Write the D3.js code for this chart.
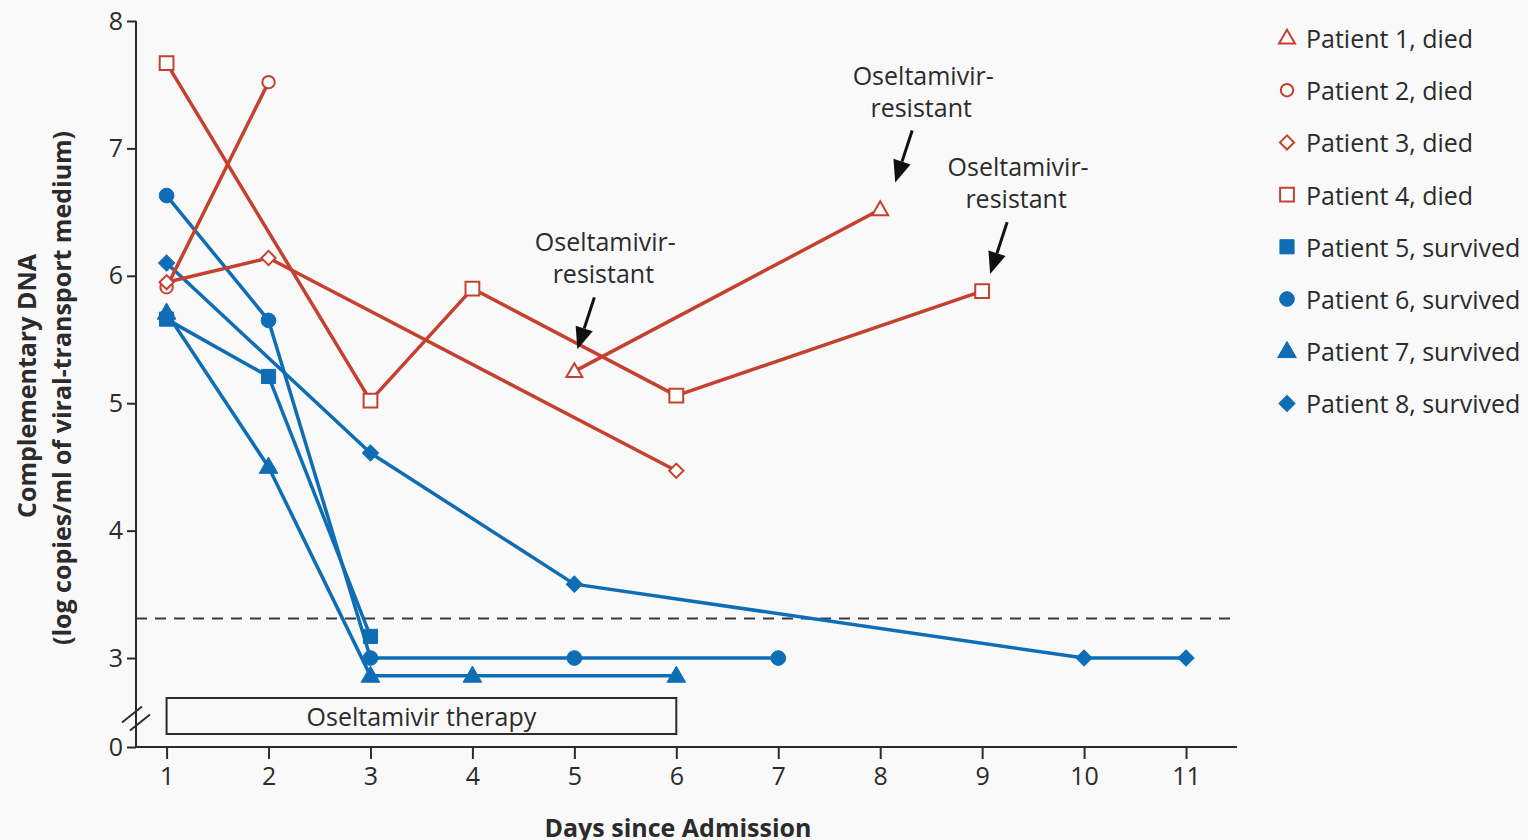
<!DOCTYPE html>
<html>
<head>
<meta charset="utf-8">
<script src="https://cdn.jsdelivr.net/npm/d3@7"></script>
<style>
  html, body { margin: 0; padding: 0; background: #f9f9f9; }
  svg { display: block; }
  .lbl { font-family: "Open Sans", sans-serif; fill: #2b2b2b; }
  .ttl { font-family: "Open Sans", "DejaVu Sans", sans-serif; font-weight: bold; fill: #2b2b2b; }
</style>
</head>
<body>
<div id="chart-container"></div>
<script>
// days and values
const patientNames = ["Patient 1, died", "Patient 2, died", "Patient 3, died", "Patient 4, died",
  "Patient 5, survived", "Patient 6, survived", "Patient 7, survived", "Patient 8, survived"];
const p1Days = [5, 8],            p1Vals = [5.25, 6.52];
const p2Days = [1, 2],            p2Vals = [5.91, 7.52];
const p3Days = [1, 2, 6],         p3Vals = [5.95, 6.14, 4.47];
const p4Days = [1, 3, 4, 6, 9],   p4Vals = [7.67, 5.02, 5.9, 5.06, 5.88];
const p5Days = [1, 2, 3],         p5Vals = [5.66, 5.21, 3.17];
const p6Days = [1, 2, 3, 5, 7],   p6Vals = [6.63, 5.65, 3.0, 3.0, 3.0];
const p7Days = [1, 2, 3, 4, 6],   p7Vals = [5.71, 4.5, 2.86, 2.86, 2.86];
const p8Days = [1, 3, 5, 10, 11], p8Vals = [6.1, 4.61, 3.58, 3.0, 3.0];
const detectionLimit = 3.31;
const therapyDays = [1, 6];
const resistantPoints = [[5, 5.25], [8, 6.52], [9, 5.88]]; // arrows point near these
const xTicks = [1, 2, 3, 4, 5, 6, 7, 8, 9, 10, 11];
const yTicks = [0, 3, 4, 5, 6, 7, 8];

const red = "#c4412f", blue = "#0f6db5", ink = "#2b2b2b";

const width = 1528, height = 840;
const svg = d3.select("#chart-container").append("svg")
  .attr("width", width).attr("height", height);

// x scale
const x = d3.scaleLinear().domain([0.7, 11.5]).range([136, 1237]);
// broken y scale: 0 sits just under the break, linear above 2.6
const y = d3.scaleLinear().domain([0, 2.6, 8]).range([747, 709, 21]);

// dashed detection line
svg.append("line")
  .attr("x1", x(0.7)).attr("x2", x(11.5))
  .attr("y1", y(detectionLimit)).attr("y2", y(detectionLimit))
  .attr("stroke", "#3a3a3a").attr("stroke-width", 2)
  .attr("stroke-dasharray", "11,8");

// therapy box
svg.append("rect")
  .attr("x", x(therapyDays[0])).attr("y", 698)
  .attr("width", x(therapyDays[1]) - x(therapyDays[0])).attr("height", 36)
  .attr("fill", "none").attr("stroke", ink).attr("stroke-width", 2);
svg.append("text").attr("class", "lbl")
  .attr("x", (x(therapyDays[0]) + x(therapyDays[1])) / 2).attr("y", 716)
  .attr("text-anchor", "middle").attr("dominant-baseline", "central")
  .style("font-size", "25px")
  .text("Oseltamivir therapy");

// axes
const yAxis = svg.append("g")
  .attr("transform", `translate(${x(0.7)},0)`)
  .call(d3.axisLeft(y).tickValues(yTicks).tickSize(9).tickPadding(4).tickFormat(d3.format("d")));
yAxis.select(".domain").attr("stroke", ink).attr("stroke-width", 2).attr("d", `M0,${y(8)}V${y(0)}`);
yAxis.selectAll(".tick line").attr("stroke", ink).attr("stroke-width", 2);
yAxis.selectAll(".tick text").attr("class", "lbl").style("font-size", "25px").attr("fill", ink);

const xAxis = svg.append("g")
  .attr("transform", `translate(0,${y(0)})`)
  .call(d3.axisBottom(x).tickValues(xTicks).tickSize(12).tickPadding(8).tickFormat(d3.format("d")));
xAxis.select(".domain").attr("stroke", ink).attr("stroke-width", 2).attr("d", `M${x(0.7)},0H${x(11.5)}`);
xAxis.selectAll(".tick line").attr("stroke", ink).attr("stroke-width", 2);
xAxis.selectAll(".tick text").attr("class", "lbl").style("font-size", "25px").attr("fill", ink);

// axis break marks
const bx = x(0.7), by = (y(3) + y(0)) / 2 + 16;
[-4, 4].forEach(o => {
  svg.append("line")
    .attr("x1", bx - 10 + o).attr("y1", by + 8 + o)
    .attr("x2", bx + 10 + o).attr("y2", by - 8 + o)
    .attr("stroke", ink).attr("stroke-width", 2);
});

// axis titles
svg.append("text").attr("class", "ttl")
  .attr("transform", `translate(36,386) rotate(-90)`)
  .attr("text-anchor", "middle").style("font-size", "25px")
  .text("Complementary DNA");
svg.append("text").attr("class", "ttl")
  .attr("transform", `translate(71,388) rotate(-90)`)
  .attr("text-anchor", "middle").style("font-size", "25px")
  .text("(log copies/ml of viral-transport medium)");
svg.append("text").attr("class", "ttl")
  .attr("x", 678).attr("y", 837)
  .attr("text-anchor", "middle").style("font-size", "25px")
  .text("Days since Admission");

// series
const series = [
  { days: p1Days, vals: p1Vals, color: red, shape: "triangle", open: true },
  { days: p2Days, vals: p2Vals, color: red, shape: "circle", open: true },
  { days: p3Days, vals: p3Vals, color: red, shape: "diamond", open: true },
  { days: p4Days, vals: p4Vals, color: red, shape: "square", open: true },
  { days: p5Days, vals: p5Vals, color: blue, shape: "square", open: false },
  { days: p6Days, vals: p6Vals, color: blue, shape: "circle", open: false },
  { days: p7Days, vals: p7Vals, color: blue, shape: "triangle", open: false },
  { days: p8Days, vals: p8Vals, color: blue, shape: "diamond", open: false }
];

function markerPath(shape, open) {
  if (shape === "circle") return d3.symbol(d3.symbolCircle, open ? 120 : 170)();
  if (shape === "square") return d3.symbol(d3.symbolSquare, open ? 190 : 200)();
  if (shape === "triangle") return d3.symbol(d3.symbolTriangle, open ? 110 : 150)();
  return d3.symbol(d3.symbolSquare, open ? 100 : 130)();
}
function markerTransform(shape, px, py) {
  if (shape === "diamond") return `translate(${px},${py}) rotate(45)`;
  if (shape === "triangle") return `translate(${px},${py + 1})`;
  return `translate(${px},${py})`;
}

const line = d3.line().x(d => x(d[0])).y(d => y(d[1]));

// draw blue first, red on top like the original
const order = [4, 5, 6, 7, 0, 1, 2, 3];
order.forEach(i => {
  const s = series[i];
  const pts = s.days.map((d, k) => [d, s.vals[k]]);
  svg.append("path").datum(pts)
    .attr("fill", "none").attr("stroke", s.color)
    .attr("stroke-width", 3.5).attr("stroke-linejoin", "round")
    .attr("d", line);
});
order.forEach(i => {
  const s = series[i];
  const pts = s.days.map((d, k) => [d, s.vals[k]]);
  svg.append("g").selectAll("path").data(pts).join("path")
    .attr("d", markerPath(s.shape, s.open))
    .attr("transform", d => markerTransform(s.shape, x(d[0]), y(d[1])))
    .attr("fill", s.open ? "#ffffff" : s.color)
    .attr("stroke", s.color)
    .attr("stroke-width", s.open ? 2 : 1);
});

// annotations with arrows
const arrowOffsets = [[3, -22], [15, -27], [8, -17]]; // tip offset from point
resistantPoints.forEach((p, i) => {
  const tx = x(p[0]) + arrowOffsets[i][0], ty = y(p[1]) + arrowOffsets[i][1];
  const sx = tx + 17, sy = ty - 52;
  const ang = Math.atan2(ty - sy, tx - sx);
  const hl = 22, hw = 9;
  const bxp = tx - hl * Math.cos(ang), byp = ty - hl * Math.sin(ang);
  svg.append("line")
    .attr("x1", sx).attr("y1", sy).attr("x2", bxp).attr("y2", byp)
    .attr("stroke", "#111").attr("stroke-width", 3);
  svg.append("path")
    .attr("d", `M${tx},${ty}L${bxp + hw * Math.sin(ang)},${byp - hw * Math.cos(ang)}L${bxp - hw * Math.sin(ang)},${byp + hw * Math.cos(ang)}Z`)
    .attr("fill", "#111");
  const cx = tx + 28;
  ["Oseltamivir-", "resistant"].forEach((t, k) => {
    svg.append("text").attr("class", "lbl")
      .attr("x", cx + (k === 0 ? 0 : -2)).attr("y", ty - 108 + k * 32)
      .attr("text-anchor", "middle").attr("dominant-baseline", "central")
      .style("font-size", "25px")
      .text(t);
  });
});

// legend
const legend = svg.append("g");
series.forEach((s, i) => {
  const ly = 38 + i * 52.2;
  legend.append("path")
    .attr("d", markerPath(s.shape, s.open))
    .attr("transform", markerTransform(s.shape, 1287, ly))
    .attr("fill", s.open ? "#ffffff" : s.color)
    .attr("stroke", s.color)
    .attr("stroke-width", s.open ? 2 : 1);
  legend.append("text").attr("class", "lbl")
    .attr("x", 1306).attr("y", ly)
    .attr("dominant-baseline", "central")
    .style("font-size", "25px")
    .text(patientNames[i]);
});
</script>
</body>
</html>
